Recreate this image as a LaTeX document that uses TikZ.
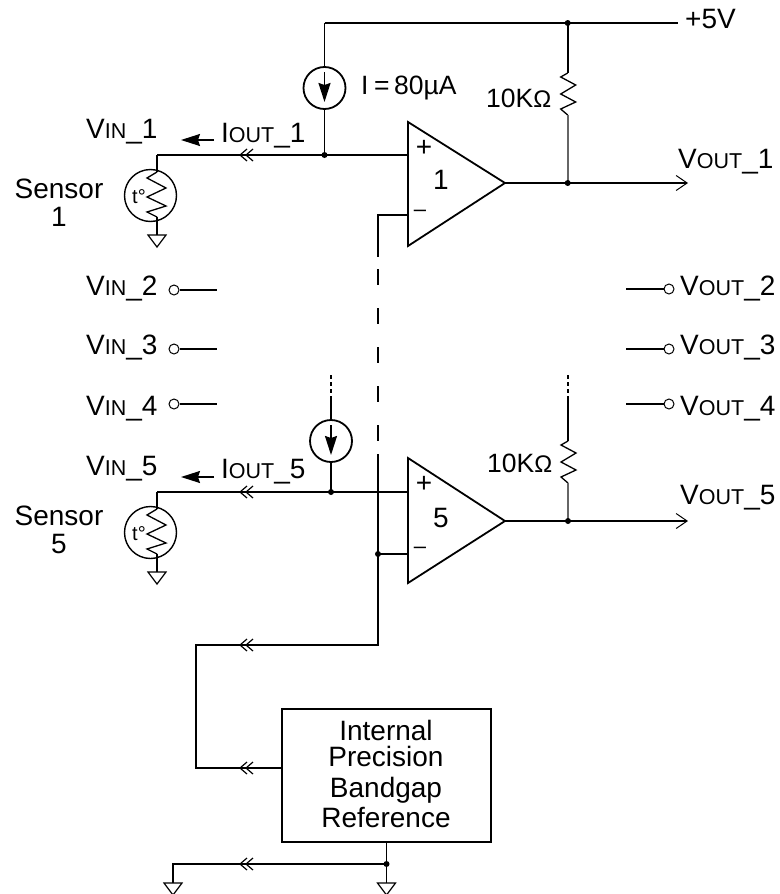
\documentclass[tikz,border=0pt]{standalone}
\usepackage{fontspec}
\setmainfont{Liberation Sans}
\usetikzlibrary{arrows.meta,calc}

\newcommand{\bigfont}{\fontsize{28}{29}\selectfont}
\newcommand{\midfont}{\fontsize{26.5}{27}\selectfont}
\newcommand{\capsub}[2]{{\bigfont #1\fontsize{21.5}{20}\selectfont #2}}

\tikzset{
    wire/.style={line width=1.8pt},
    thin wire/.style={line width=1.2pt},
    lbl/.style={inner sep=0pt,anchor=base west,font=\bigfont},
    midlbl/.style={inner sep=0pt,anchor=base west,font=\midfont},
    isrc/.style={draw,circle,line width=1.8pt,minimum size=42pt,inner sep=0pt},
    term/.style={draw,circle,line width=1pt,fill=white,minimum size=10pt,inner sep=0pt},
    flow/.style={-{Stealth[length=19pt,width=12pt,inset=2pt]}},
    outarrow/.style={-{Straight Barb[length=11pt,width=15pt,line width=1pt]}},
    pull/.style={line width=1.8pt,black!60},
}

% two small chevrons on a wire
\newcommand{\chev}[1]{
    \draw[thin wire] ($(#1) + (7, -6)$) -- (#1) -- ($(#1) + (7, 6)$);
    \draw[thin wire] ($(#1) + (13, -6)$) -- ($(#1) + (6, 0)$) -- ($(#1) + (13, 6)$);
}
\newcommand{\gnd}[1]{
    \draw[thin wire,fill=white] ($(#1) + (-9, 0)$) -- ($(#1) + (9, 0)$) -- ($(#1) + (0, 12)$) -- cycle;
}
\newcommand{\zigzag}[1]{
    \draw[line width=1.3pt] (#1) -- ($(#1) + (-7, 4)$) -- ($(#1) + (8, 12)$) -- ($(#1) + (-7, 21)$)
        -- ($(#1) + (8, 29)$) -- ($(#1) + (-7, 36)$) -- ($(#1) + (0, 42)$);
}
\newcommand{\sensorsym}[1]{
    \draw[line width=1.4pt] ($(#1) + (-6.5, 40.5)$) circle (26);
    \draw[line width=1.3pt] ($(#1) + (0, 17)$) -- ($(#1) + (-10, 23)$) -- ($(#1) + (9, 33)$) -- ($(#1) + (-10, 42)$)
        -- ($(#1) + (9, 51)$) -- ($(#1) + (-10, 57)$) -- ($(#1) + (0, 62)$);
    \draw[wire] (#1) -- ($(#1) + (0, 17)$);
    \draw[wire] ($(#1) + (0, 62)$) -- ($(#1) + (0, 80)$);
    \gnd{$(#1) + (0, 80)$}
    \node[inner sep=0pt,anchor=base west,font=\fontsize{20}{20}\selectfont] at ($(#1) + (-25, 48)$) {t°};
}
\newcommand{\opamp}[5]{
    \draw[wire,line join=miter] (408, #2) -- (505, #3) -- (408, #4) -- cycle;
    \node[inner sep=0pt,font=\fontsize{28}{28}\selectfont] at (424, #2 + 26) {+};
    \node[inner sep=0pt,font=\fontsize{22}{22}\selectfont] at (420, #4 - 33) {–};
    \node[inner sep=0pt,font=\bigfont] (#1) at (441, #3 - 3) {#5};
}

\begin{document}
\begin{tikzpicture}[x=1pt,y=-1pt]
    \useasboundingbox (0, 0) rectangle (779, 894);

    %supply rail
    \coordinate (railL) at (324.5, 23);
    \coordinate (railR) at (567.7, 23);
    \coordinate (railEnd) at (678, 23);
    \coordinate (in1) at (324.5, 155);
    \coordinate (s1) at (157, 155);
    \coordinate (plus1) at (408, 155);
    \node[isrc] (isrc1) at (324.5, 88) {};
    \draw[wire] (railL) -- (isrc1) -- (in1);
    \draw[wire] (railL) -- (railEnd);
    \draw[wire,flow] ($(isrc1) + (0, -16)$) -- ($(isrc1) + (0, 14)$);
    \fill (railR) circle (3);
    \fill (in1) circle (3);
    \node[lbl] (vcc) at (685, 28) {+5V};
    \node[midlbl] (ival) at (361, 94) {I\hspace{5.5pt}=\hspace{4.5pt}80µA};

    %channel 1
    \draw[wire] (s1) -- (plus1);
    \chev{240, 155}
    \sensorsym{s1}
    \node[lbl] (vin1) at (86, 138) {\capsub{V}{IN}\_1};
    \node[lbl] (iout1) at (221, 142) {\capsub{I}{OUT}\_1};
    \coordinate (iarrA) at (214, 140);
    \coordinate (iarrB) at (181, 140);
    \draw[line width=1.4pt,flow] (iarrA) -- (iarrB);
    \node[lbl,align=center,anchor=base] (sens1) at (59, 226) {Sensor\\[-1pt]1};

    \opamp{amp1}{122}{183}{246}{1}

    \coordinate (rtop1) at (567.7, 73);
    \coordinate (rbot1) at (567.7, 115);
    \coordinate (out1) at (567.7, 183);
    \coordinate (amp1out) at (505, 183);
    \coordinate (end1) at (688, 183);
    \draw[wire] (railR) -- (rtop1);
    \zigzag{rtop1}
    \draw[pull] (rbot1) -- (out1);
    \draw[wire,outarrow] (amp1out) -- (end1);
    \fill (out1) circle (3);
    \node[midlbl] (r1) at (486, 107) {10K{\fontsize{24}{24}\selectfont Ω}};
    \node[lbl] (vout1) at (678, 168) {\capsub{V}{OUT}\_1};

    %reference line, broken between the channels
    \coordinate (minus1) at (408, 215);
    \coordinate (refA) at (378, 215);
    \coordinate (refB) at (378, 257);
    \coordinate (refC) at (378, 269);
    \coordinate (refD) at (378, 441);
    \coordinate (refE) at (378, 454);
    \coordinate (ref5) at (378, 554);
    \coordinate (minus5) at (408, 554);
    \coordinate (refF) at (378, 645);
    \coordinate (refG) at (196, 645);
    \coordinate (refH) at (196, 768);
    \draw[wire] (minus1) -- (refA) -- (refB);
    \draw[wire,dash pattern=on 16pt off 23pt] (refC) -- (refD);

    %channels 2 to 4
    \node[term] (tin2) at (174, 290) {};
    \node[term] (tin3) at (174, 349) {};
    \node[term] (tin4) at (174, 404) {};
    \coordinate (win2) at (217, 290);
    \coordinate (win3) at (217, 349);
    \coordinate (win4) at (217, 404);
    \draw[wire] (tin2) -- (win2);
    \draw[wire] (tin3) -- (win3);
    \draw[wire] (tin4) -- (win4);
    \node[lbl] (vin2) at (86, 295) {\capsub{V}{IN}\_2};
    \node[lbl] (vin3) at (86, 354) {\capsub{V}{IN}\_3};
    \node[lbl] (vin4) at (86, 415) {\capsub{V}{IN}\_4};

    \node[term] (tout2) at (669, 289) {};
    \node[term] (tout3) at (669, 349) {};
    \node[term] (tout4) at (669, 404) {};
    \coordinate (wout2) at (626, 289);
    \coordinate (wout3) at (626, 349);
    \coordinate (wout4) at (626, 404);
    \draw[wire] (wout2) -- (tout2);
    \draw[wire] (wout3) -- (tout3);
    \draw[wire] (wout4) -- (tout4);
    \node[lbl] (vout2) at (680, 295) {\capsub{V}{OUT}\_2};
    \node[lbl] (vout3) at (680, 354) {\capsub{V}{OUT}\_3};
    \node[lbl] (vout4) at (680, 415) {\capsub{V}{OUT}\_4};

    %channel 5
    \coordinate (in5) at (331, 492);
    \coordinate (s5) at (157, 492);
    \coordinate (plus5) at (408, 492);
    \coordinate (stubA) at (331, 375);
    \coordinate (stubB) at (331, 400);
    \node[isrc] (isrc5) at (331, 441) {};
    \draw[wire,dash pattern=on 3.5pt off 3.5pt] (stubA) -- (stubB);
    \draw[wire] (stubB) -- (isrc5) -- (in5);
    \draw[wire,flow] ($(isrc5) + (0, -16)$) -- ($(isrc5) + (0, 14)$);
    \fill (in5) circle (3);
    \draw[wire] (s5) -- (plus5);
    \chev{240, 492}
    \sensorsym{s5}
    \node[lbl] (vin5) at (86, 475) {\capsub{V}{IN}\_5};
    \node[lbl] (iout5) at (221, 478) {\capsub{I}{OUT}\_5};
    \coordinate (jarrA) at (214, 477);
    \coordinate (jarrB) at (181, 477);
    \draw[line width=1.4pt,flow] (jarrA) -- (jarrB);
    \node[lbl,align=center,anchor=base] (sens5) at (59, 553) {Sensor\\[-1pt]5};

    \opamp{amp5}{458}{521}{583}{5}

    \coordinate (stubC) at (568, 375);
    \coordinate (stubD) at (568, 400);
    \coordinate (rtop5) at (568, 441);
    \coordinate (rbot5) at (568, 483);
    \coordinate (out5) at (568, 521);
    \coordinate (amp5out) at (505, 521);
    \coordinate (end5) at (688, 521);
    \draw[wire,dash pattern=on 3.5pt off 3.5pt] (stubC) -- (stubD);
    \draw[wire] (stubD) -- (rtop5);
    \zigzag{rtop5}
    \draw[pull] (rbot5) -- (out5);
    \draw[wire,outarrow] (amp5out) -- (end5);
    \fill (out5) circle (3);
    \node[midlbl] (r5) at (487, 472) {10K{\fontsize{24}{24}\selectfont Ω}};
    \node[lbl] (vout5) at (680, 504) {\capsub{V}{OUT}\_5};

    %bandgap block
    \node[draw,wire,minimum width=209pt,minimum height=133pt,inner sep=0pt] (ref) at (386.5, 775.5) {};
    \node[align=center,inner sep=0pt,font=\bigfont] (reftext) at (386, 773.5)
        {Internal\\[-3pt]Precision\\[2pt]Bandgap\\[1pt]Reference};
    \coordinate (refIn) at (ref.west |- refH);
    \draw[wire] (refE) -- (refF) -- (refG) -- (refH) -- (refIn);
    \draw[wire] (ref5) -- (minus5);
    \fill (ref5) circle (3);
    \chev{240, 645}
    \chev{240, 768}

    \coordinate (jnB) at (386.5, 864);
    \coordinate (gndB) at (386.5, 883);
    \coordinate (jnC) at (173, 864);
    \coordinate (gndC) at (173, 883);
    \draw[wire] (ref.south) -- (gndB);
    \draw[wire] (jnB) -- (jnC) -- (gndC);
    \fill (jnB) circle (3);
    \chev{240, 864}
    \gnd{gndB}
    \gnd{gndC}
\end{tikzpicture}
\end{document}
